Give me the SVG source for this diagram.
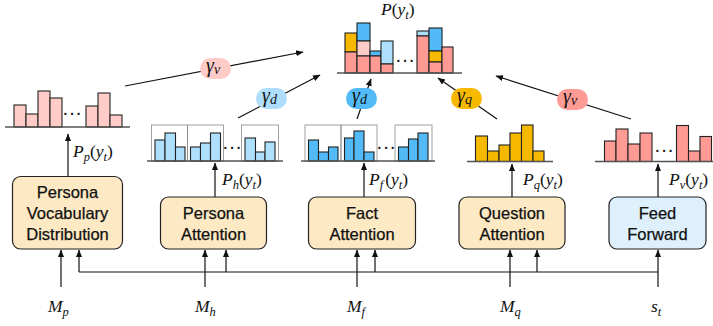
<svg xmlns="http://www.w3.org/2000/svg" width="713" height="326" viewBox="0 0 713 326">
<defs>
<marker id="ah" markerUnits="userSpaceOnUse" markerWidth="8" markerHeight="8" viewBox="0 0 8 8" refX="7" refY="4" orient="auto">
<path d="M0,1 L7.5,4 L0,7 Z" fill="#111"/>
</marker>
</defs>
<style>
.box{fill:#FDE9C4;stroke:#222;stroke-width:1.2}
.ff{fill:#DDF0FC;stroke:#222;stroke-width:1.2}
.lbl{font-family:"Liberation Sans",Arial,sans-serif;font-size:16.5px;fill:#111;text-anchor:middle;stroke:#111;stroke-width:0.25}
.m{font-family:"Liberation Serif","Times New Roman",serif;font-size:17.5px;fill:#111}
.g{font-family:"Liberation Serif","Times New Roman",serif;font-size:20px;fill:#111}
.i{font-style:italic}
.s{font-style:italic;font-size:12.5px}
.gs{font-style:italic;font-size:14px}
.base{stroke:#555;stroke-width:1.5;fill:none}
.bar rect{stroke:#222;stroke-width:1.1}
.lp{fill:#FFCCC7}
.sa{fill:#FF9A94}
.lb{fill:#AEDFFD}
.bl{fill:#52BAF6}
.or{fill:#F6B900}
.frame{fill:none;stroke:#888;stroke-width:0.8}
.dots{font-family:"Liberation Sans",Arial,sans-serif;font-size:20px;fill:#111;text-anchor:middle}
.c{stroke:#111;stroke-width:1.2;fill:none}
.ca{stroke:#111;stroke-width:1.2;fill:none;marker-end:url(#ah)}
</style>

<g id="connectors">
<line class="ca" x1="125" y1="86" x2="303" y2="52"/>
<line class="ca" x1="238" y1="118" x2="320" y2="75"/>
<line class="ca" x1="357" y1="119" x2="371" y2="79"/>
<line class="ca" x1="497" y1="119" x2="438" y2="78"/>
<line class="ca" x1="631" y1="119" x2="496" y2="76"/>
<line class="ca" x1="68" y1="176" x2="68" y2="134"/>
<line class="ca" x1="215" y1="197" x2="215" y2="163"/>
<line class="ca" x1="364" y1="197" x2="364" y2="163"/>
<line class="ca" x1="512" y1="197" x2="512" y2="164"/>
<line class="ca" x1="658" y1="197" x2="658" y2="164"/>
<line class="c" x1="79" y1="272" x2="658" y2="272"/>
<line class="ca" x1="61" y1="287" x2="61" y2="250"/>
<line class="ca" x1="79" y1="272" x2="79" y2="250"/>
<line class="ca" x1="205" y1="287" x2="205" y2="250"/>
<line class="ca" x1="226" y1="272" x2="226" y2="250"/>
<line class="ca" x1="357" y1="287" x2="357" y2="250"/>
<line class="ca" x1="375" y1="272" x2="375" y2="250"/>
<line class="ca" x1="510" y1="287" x2="510" y2="250"/>
<line class="ca" x1="537" y1="272" x2="537" y2="250"/>
<line class="ca" x1="658" y1="287" x2="658" y2="250"/>
</g>

<g id="output-dist">
<g class="bar">
<rect class="or" x="345" y="33" width="12" height="19"/><rect class="sa" x="345" y="52" width="12" height="21"/>
<rect class="bl" x="357" y="23" width="13" height="18"/><rect class="lp" x="357" y="41" width="13" height="15"/><rect class="sa" x="357" y="56" width="13" height="17"/>
<rect class="bl" x="370" y="51" width="11" height="5"/><rect class="sa" x="370" y="56" width="11" height="17"/>
<rect class="lb" x="381" y="41" width="12" height="23"/><rect class="sa" x="381" y="64" width="12" height="9"/>
<rect class="lb" x="417" y="31" width="12" height="5"/><rect class="sa" x="417" y="36" width="12" height="37"/>
<rect class="bl" x="429" y="28" width="13" height="23"/><rect class="or" x="429" y="51" width="13" height="11"/><rect class="sa" x="429" y="62" width="13" height="11"/>
<rect class="sa" x="442" y="47" width="11" height="26"/>
</g>
<line class="base" x1="337" y1="73" x2="462" y2="73"/>
<text class="dots" x="405" y="66">···</text>
<text class="m" x="381" y="15"><tspan class="i">P</tspan>(<tspan class="i">y</tspan><tspan class="s" dy="4">t</tspan><tspan dy="-4">)</tspan></text>
</g>

<g id="persona-vocab-dist">
<g class="bar">
<rect class="lp" x="14" y="105" width="12" height="22"/>
<rect class="lp" x="26" y="114" width="12" height="13"/>
<rect class="lp" x="38" y="91" width="12" height="36"/>
<rect class="lp" x="50" y="98" width="12" height="29"/>
<rect class="lp" x="86" y="106" width="12" height="21"/>
<rect class="lp" x="98" y="93" width="12" height="34"/>
<rect class="lp" x="110" y="115" width="12" height="12"/>
</g>
<line class="base" x1="5" y1="127" x2="130" y2="127"/>
<text class="dots" x="72" y="119">···</text>
<text class="m" x="73" y="156.5"><tspan class="i">P</tspan><tspan class="s" dy="4">p</tspan><tspan dy="-4">(</tspan><tspan class="i">y</tspan><tspan class="s" dy="4">t</tspan><tspan dy="-4">)</tspan></text>
</g>

<g id="persona-attn-dist">
<rect class="frame" x="151.5" y="125" width="36" height="36"/>
<rect class="frame" x="187.5" y="125" width="36" height="36"/>
<rect class="frame" x="241.5" y="125" width="37" height="36"/>
<g class="bar">
<rect class="lb" x="155" y="140" width="10" height="21"/>
<rect class="lb" x="165" y="133" width="10.5" height="28"/>
<rect class="lb" x="175.5" y="147" width="9.5" height="14"/>
<rect class="lb" x="190.5" y="147" width="10" height="14"/>
<rect class="lb" x="200.5" y="143" width="10" height="18"/>
<rect class="lb" x="210.5" y="133" width="10" height="28"/>
<rect class="lb" x="245" y="138" width="10.5" height="23"/>
<rect class="lb" x="255.5" y="152" width="9.5" height="9"/>
<rect class="lb" x="265" y="142" width="10" height="19"/>
</g>
<line class="base" x1="147" y1="161" x2="283" y2="161"/>
<text class="dots" x="232" y="153">···</text>
<text class="m" x="222" y="185"><tspan class="i">P</tspan><tspan class="s" dy="4">h</tspan><tspan dy="-4">(</tspan><tspan class="i">y</tspan><tspan class="s" dy="4">t</tspan><tspan dy="-4">)</tspan></text>
</g>

<g id="fact-attn-dist">
<rect class="frame" x="305" y="125" width="36" height="36"/>
<rect class="frame" x="341" y="125" width="36" height="36"/>
<rect class="frame" x="395" y="125" width="37" height="36"/>
<g class="bar">
<rect class="bl" x="308.5" y="140" width="10" height="21"/>
<rect class="bl" x="318.5" y="152" width="10" height="9"/>
<rect class="bl" x="328.5" y="147" width="9.5" height="14"/>
<rect class="bl" x="344.5" y="138" width="9.5" height="23"/>
<rect class="bl" x="354" y="131" width="10" height="30"/>
<rect class="bl" x="364" y="152" width="10" height="9"/>
<rect class="bl" x="398.5" y="147" width="10" height="14"/>
<rect class="bl" x="408.5" y="139" width="9.5" height="22"/>
<rect class="bl" x="418" y="133" width="10" height="28"/>
</g>
<line class="base" x1="301" y1="161" x2="435" y2="161"/>
<text class="dots" x="386" y="153">···</text>
<text class="m" x="369" y="185"><tspan class="i">P</tspan><tspan class="s" dy="4">f</tspan><tspan dy="-4" dx="2">(</tspan><tspan class="i">y</tspan><tspan class="s" dy="4">t</tspan><tspan dy="-4">)</tspan></text>
</g>

<g id="question-attn-dist">
<g class="bar">
<rect class="or" x="475.5" y="136" width="12" height="25.5"/>
<rect class="or" x="487.5" y="151" width="11.5" height="10.5"/>
<rect class="or" x="499" y="145" width="11" height="16.5"/>
<rect class="or" x="510" y="133" width="11.5" height="28.5"/>
<rect class="or" x="521.5" y="125" width="11.5" height="36.5"/>
<rect class="or" x="533" y="151" width="11" height="10.5"/>
</g>
<line class="base" x1="467" y1="161.5" x2="553" y2="161.5"/>
<text class="m" x="523" y="185"><tspan class="i">P</tspan><tspan class="s" dy="4">q</tspan><tspan dy="-4">(</tspan><tspan class="i">y</tspan><tspan class="s" dy="4">t</tspan><tspan dy="-4">)</tspan></text>
</g>

<g id="vocab-dist">
<g class="bar">
<rect class="sa" x="604.5" y="141" width="11.5" height="20.5"/>
<rect class="sa" x="616" y="129" width="12" height="32.5"/>
<rect class="sa" x="628" y="144" width="12" height="17.5"/>
<rect class="sa" x="640" y="133" width="12" height="28.5"/>
<rect class="sa" x="676.5" y="125.5" width="12" height="36"/>
<rect class="sa" x="688.5" y="151" width="11.5" height="10.5"/>
<rect class="sa" x="700" y="136.5" width="11.5" height="25"/>
</g>
<line class="base" x1="595" y1="161.5" x2="713" y2="161.5"/>
<text class="dots" x="664" y="156">···</text>
<text class="m" x="669" y="185"><tspan class="i">P</tspan><tspan class="s" dy="4">v</tspan><tspan dy="-4">(</tspan><tspan class="i">y</tspan><tspan class="s" dy="4">t</tspan><tspan dy="-4">)</tspan></text>
</g>

<g id="gamma-v-left">
<rect x="200" y="58" width="31" height="21" rx="10.5" fill="#FFCBC6"/>
<text class="g" x="206" y="72"><tspan class="i">γ</tspan><tspan class="gs" dy="2">v</tspan></text>
</g>
<g id="gamma-d-persona">
<rect x="256" y="88" width="31" height="21" rx="10.5" fill="#AEDEFC"/>
<text class="g" x="262" y="102"><tspan class="i">γ</tspan><tspan class="gs" dy="2">d</tspan></text>
</g>
<g id="gamma-d-fact">
<rect x="346" y="88" width="31" height="21" rx="10.5" fill="#52BAF6"/>
<text class="g" x="352" y="102"><tspan class="i">γ</tspan><tspan class="gs" dy="2">d</tspan></text>
</g>
<g id="gamma-q">
<rect x="451" y="88" width="31" height="21" rx="10.5" fill="#F6B900"/>
<text class="g" x="457" y="102"><tspan class="i">γ</tspan><tspan class="gs" dy="2">q</tspan></text>
</g>
<g id="gamma-v-right">
<rect x="557" y="89" width="31" height="21" rx="10.5" fill="#FF9B95"/>
<text class="g" x="563" y="103"><tspan class="i">γ</tspan><tspan class="gs" dy="2">v</tspan></text>
</g>

<g id="persona-vocab-box">
<rect class="box" x="12.5" y="176.5" width="110" height="72.5" rx="8"/>
<text class="lbl" x="67.5" y="197.5">Persona</text>
<text class="lbl" x="67.5" y="218.5">Vocabulary</text>
<text class="lbl" x="67.5" y="239.5">Distribution</text>
</g>
<g id="persona-attn-box">
<rect class="box" x="160.5" y="197" width="106" height="52" rx="8"/>
<text class="lbl" x="213.5" y="218.5">Persona</text>
<text class="lbl" x="213.5" y="239.5">Attention</text>
</g>
<g id="fact-attn-box">
<rect class="box" x="308.5" y="197" width="107" height="52" rx="8"/>
<text class="lbl" x="362" y="218.5">Fact</text>
<text class="lbl" x="362" y="239.5">Attention</text>
</g>
<g id="question-attn-box">
<rect class="box" x="459" y="197" width="106" height="52" rx="8"/>
<text class="lbl" x="512" y="218.5">Question</text>
<text class="lbl" x="512" y="239.5">Attention</text>
</g>
<g id="feed-forward-box">
<rect class="ff" x="609" y="197" width="97" height="52" rx="8"/>
<text class="lbl" x="657.5" y="218.5">Feed</text>
<text class="lbl" x="657.5" y="239.5">Forward</text>
</g>

<g id="inputs">
<text class="m" x="48" y="312"><tspan class="i">M</tspan><tspan class="s" dy="4">p</tspan></text>
<text class="m" x="195" y="312"><tspan class="i">M</tspan><tspan class="s" dy="4">h</tspan></text>
<text class="m" x="347" y="312"><tspan class="i">M</tspan><tspan class="s" dy="4">f</tspan></text>
<text class="m" x="500" y="312"><tspan class="i">M</tspan><tspan class="s" dy="4">q</tspan></text>
<text class="m" x="651" y="312"><tspan class="i">s</tspan><tspan class="s" dy="4">t</tspan></text>
</g>
</svg>
